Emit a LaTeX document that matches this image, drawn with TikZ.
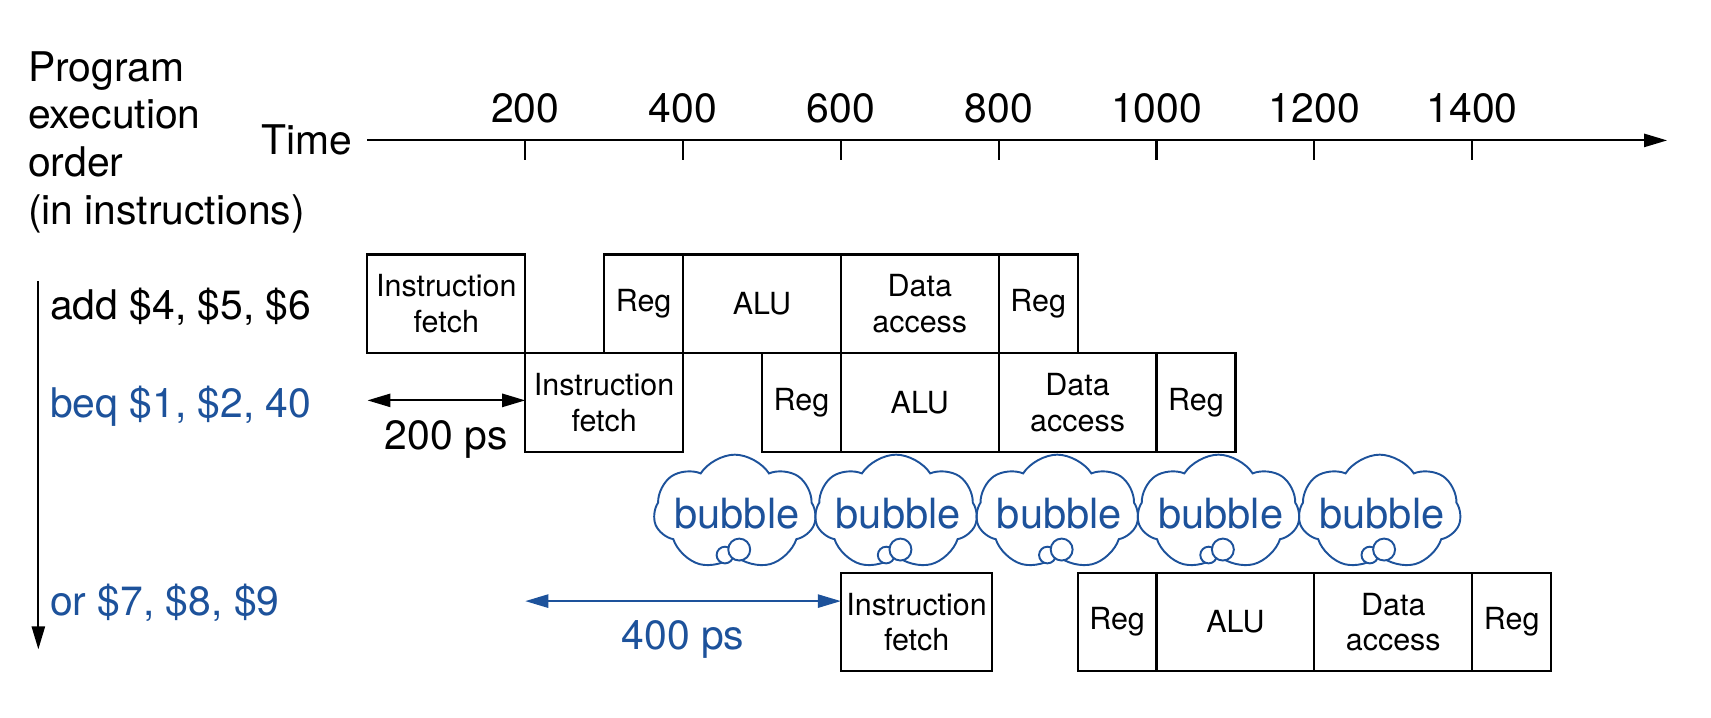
\documentclass[tikz,border=0pt]{standalone}
\usepackage{fontspec}
\setmainfont{TeX Gyre Heros}
\usetikzlibrary{positioning,shapes.symbols,arrows.meta}
\definecolor{instblue}{RGB}{29,82,155}
\newcommand{\pstage}[5]{\node[stagebox, minimum width={(#3-#2)*0.07195mm}] (#1) at (#2,#4) {#5};}

\begin{document}
\begin{tikzpicture}[x=0.07195mm, y=-0.1mm,
  stagebox/.style={draw, line width=0.55pt, inner sep=0pt, outer sep=0pt, align=center, anchor=north west,
    minimum height=9mm, font=\fontsize{7.9}{9.2}\selectfont},
  bigtext/.style={inner sep=0pt, font=\fontsize{10.6}{12.4}\selectfont},
  tip/.style={-{Triangle[length=2.1mm,width=1.2mm]}},
  dimline/.style={line width=0.55pt, {Triangle[length=2.1mm,width=1.2mm]}-{Triangle[length=2.1mm,width=1.2mm]}},
  cloudy/.style={cloud, cloud puffs=7, cloud puff arc=115, aspect=1.42, draw=instblue, line width=0.5pt, inner sep=0pt,
    minimum width=14.8mm, minimum height=10.5mm},
  puff/.style={draw=instblue, line width=0.5pt, fill=white}]
\useasboundingbox (-465.6,0) rectangle (1702.6,654);

% time axis
\coordinate (tstart) at (0,128);
\coordinate (tend) at (1647,128);
\draw[line width=0.55pt, tip] (tstart) -- (tend);
\node[bigtext, left=1.3mm of tstart] (time) {Time};
\foreach \t in {200,400,...,1400}{
  \draw[line width=0.55pt] (\t,128) -- (\t,146);
  \node[bigtext, anchor=base] (t\t) at (\t,112) {\t};
}

% program order
\node[bigtext, align=left, anchor=north west] (order) at (-431,46) {Program\\execution\\order\\(in instructions)};
\coordinate (otop) at (-417,256);
\coordinate (obot) at (-417,592);
\draw[line width=0.55pt, tip] (otop) -- (obot);
\node[bigtext, anchor=base west] (i1) at (-403,291) {add \$4, \$5, \$6};
\node[bigtext, anchor=base west, instblue] (i2) at (-403,381) {beq \$1, \$2, 40};
\node[bigtext, anchor=base west, instblue] (i3) at (-403,561) {or \$7, \$8, \$9};

% pipeline stages
\pstage{a1}{0}{200}{232}{Instruction\\fetch}
\pstage{a2}{300}{400}{232}{Reg}
\pstage{a3}{400}{600}{232}{ALU}
\pstage{a4}{600}{800}{232}{Data\\access}
\pstage{a5}{800}{900}{232}{Reg}
\pstage{b1}{200}{400}{322}{Instruction\\fetch}
\pstage{b2}{500}{600}{322}{Reg}
\pstage{b3}{600}{800}{322}{ALU}
\pstage{b4}{800}{1000}{322}{Data\\access}
\pstage{b5}{1000}{1100}{322}{Reg}
\pstage{c1}{600}{792}{522}{Instruction\\fetch}
\pstage{c2}{900}{1000}{522}{Reg}
\pstage{c3}{1000}{1200}{522}{ALU}
\pstage{c4}{1200}{1400}{522}{Data\\access}
\pstage{c5}{1400}{1500}{522}{Reg}

% bubbles
\foreach \i in {0,...,4}{
  \node[cloudy] (cl\i) at ({465.6+204.3*\i},467) {};
  \node[bigtext, instblue, font=\fontsize{10.8}{12}\selectfont, anchor=base] (bb\i) at ([xshift=0.2mm,yshift=-1.5mm]cl\i.center) {bubble};
  \draw[puff] ([xshift=-0.9mm,yshift=-3.9mm]cl\i.center) circle (0.76mm);
  \draw[puff] ([xshift=0.4mm,yshift=-3.4mm]cl\i.center) circle (1mm);
}

% spacing
\coordinate (z0) at (0,365);
\draw[dimline] (z0) -- (z0 -| b1.west) node[bigtext, midway, below=1.7mm] (ps200) {200 ps};
\coordinate (z1) at (200,548);
\draw[dimline, instblue] (z1) -- (z1 -| c1.west) node[bigtext, midway, below=1.7mm] (ps400) {400 ps};
\end{tikzpicture}
\end{document}
